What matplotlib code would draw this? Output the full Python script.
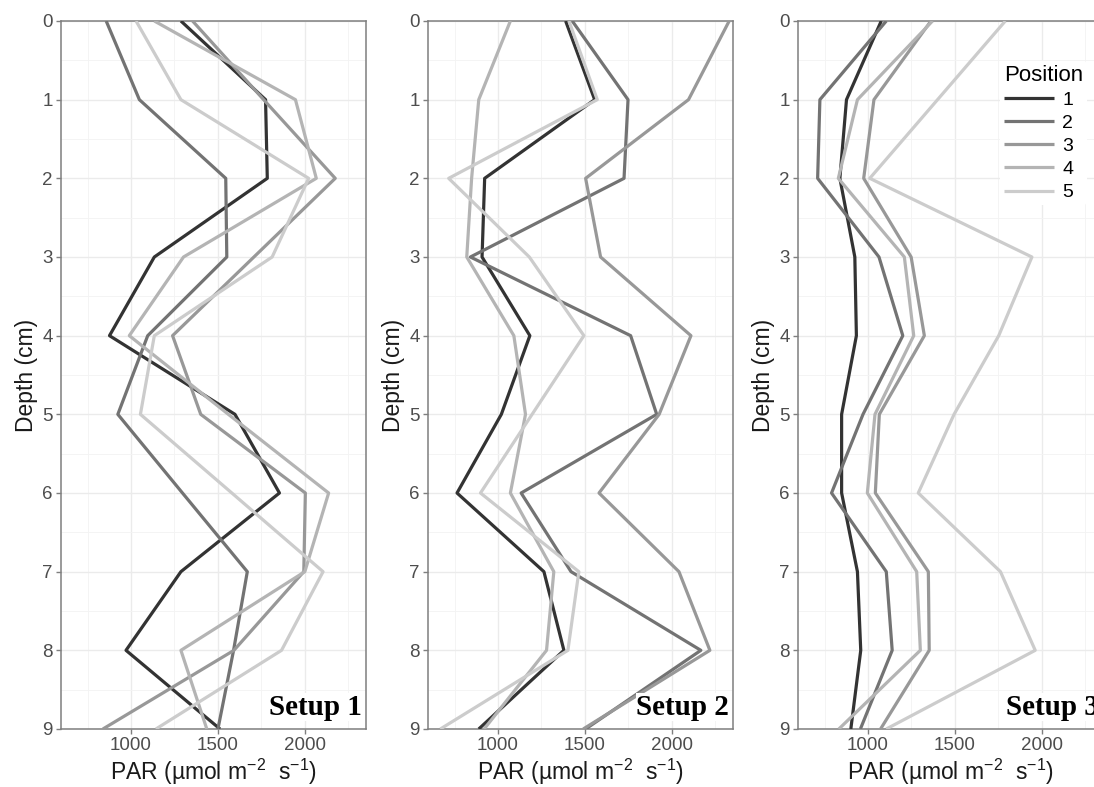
import numpy as np
import matplotlib.pyplot as plt
from matplotlib.ticker import MultipleLocator, FixedLocator

plt.rcParams['font.family'] = ['Liberation Sans', 'DejaVu Sans']
plt.rcParams['mathtext.fontset'] = 'custom'
plt.rcParams['mathtext.rm'] = 'Liberation Sans'
plt.rcParams['mathtext.it'] = 'Liberation Sans:italic'

# depth in cm, one PAR profile per position (1..5)
depth = [0, 1, 2, 3, 4, 5, 6, 7, 8, 9]
positions = ['1', '2', '3', '4', '5']

setup1 = [
    [1287, 1774, 1784, 1134, 876, 1598, 1854, 1287, 971, 1512],
    [857, 1048, 1545, 1551, 1096, 924, 1296, 1669, 1590, 1500],
    [1354, 1763, 2175, 1707, 1239, 1401, 2003, 1994, 1592, 838],
    [1134, 1946, 2066, 1302, 990, 1560, 2137, 2000, 1287, 1436],
    [1029, 1287, 2022, 1812, 1134, 1054, 1580, 2105, 1866, 1143],
]
setup2 = [
    [1389, 1556, 923, 908, 1183, 1019, 764, 1264, 1379, 889],
    [1427, 1748, 1725, 841, 1763, 1913, 1133, 1420, 2167, 1504],
    [2330, 2096, 1504, 1590, 2110, 1927, 1581, 2041, 2219, 1490],
    [1071, 889, 848, 820, 1091, 1158, 1071, 1321, 1279, 920],
    [1408, 1571, 716, 1180, 1494, 1196, 899, 1465, 1402, 668],
]
setup3 = [
    [1076, 876, 838, 924, 933, 848, 848, 939, 958, 901],
    [1105, 723, 710, 1063, 1200, 971, 790, 1105, 1139, 956],
    [1362, 1034, 975, 1248, 1324, 1065, 1042, 1347, 1352, 1072],
    [1371, 939, 829, 1209, 1263, 1040, 996, 1280, 1301, 832],
    [1790, 1400, 1010, 1943, 1752, 1495, 1289, 1762, 1962, 1105],
]
setups = [setup1, setup2, setup3]
setup_names = ['Setup 1', 'Setup 2', 'Setup 3']

grays = ['#333333', '#737373', '#989898', '#b4b4b4', '#cccccc']

W, H = 1094, 787
fig = plt.figure(figsize=(W / 100, H / 100), dpi=100)

lefts = [61, 428, 798]
ax_w, top, bottom = 305, 21, 729

axes = []
for k, left in enumerate(lefts):
    ax = fig.add_axes([left / W, 1 - bottom / H, ax_w / W, (bottom - top) / H])
    axes.append(ax)
    for i, vals in enumerate(setups[k]):
        ax.plot(vals, depth, color=grays[i], lw=2.3, label=positions[i],
                solid_capstyle='butt', zorder=3)

    ax.set_xlim(597, 2352)
    ax.set_ylim(9, 0)
    ax.xaxis.set_major_locator(FixedLocator([1000, 1500, 2000]))
    ax.xaxis.set_minor_locator(FixedLocator([750, 1250, 1750, 2250]))
    ax.yaxis.set_major_locator(MultipleLocator(1))
    ax.yaxis.set_minor_locator(MultipleLocator(0.5))
    ax.grid(which='major', color='#ebebeb', lw=1.0, zorder=0)
    ax.grid(which='minor', color='#f3f3f3', lw=0.6, zorder=0)
    ax.set_axisbelow(True)
    for s in ax.spines.values():
        s.set_color('#7f7f7f')
        s.set_linewidth(1.1)
    ax.tick_params(which='major', length=3.5, width=1, color='#7f7f7f',
                   labelsize=13.5, labelcolor='#4d4d4d', pad=2.5)
    ax.tick_params(which='minor', length=0)
    ax.set_xlabel('PAR (\u00b5mol m$^{\\mathregular{-2}}$  s$^{\\mathregular{-1}}$)',
                  fontsize=16.5, color='#1a1a1a', labelpad=2)
    ax.set_ylabel('Depth (cm)', fontsize=16.5, color='#1a1a1a', labelpad=3)

    ax.text(0.987, 0.012, setup_names[k], transform=ax.transAxes,
            ha='right', va='bottom', fontsize=21, fontweight='bold',
            family='Liberation Serif', color='black', zorder=5,
            bbox=dict(facecolor='white', edgecolor='none', pad=0.5))

leg = axes[2].legend(title='Position', loc='upper left',
                     bbox_to_anchor=(0.63, 0.957), frameon=True,
                     fontsize=14, title_fontsize=16, handlelength=2.6,
                     handletextpad=0.4, labelspacing=0.28, borderpad=0.2)
leg.get_frame().set_facecolor('white')
leg.get_frame().set_edgecolor('none')
leg.get_frame().set_alpha(1)
leg._legend_box.align = 'left'

fig.savefig('out.png', dpi=100)
